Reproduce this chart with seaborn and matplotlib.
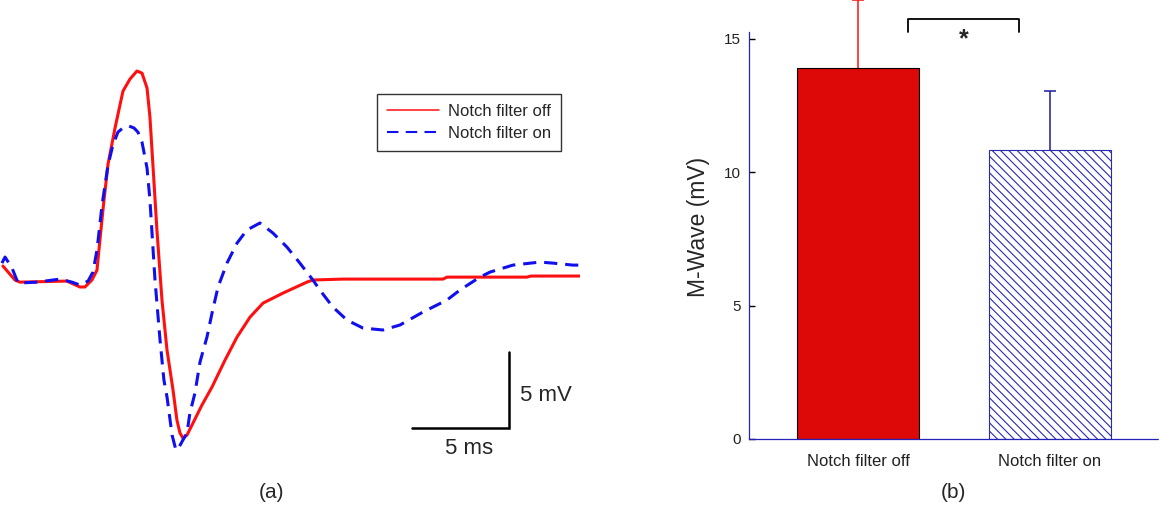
import numpy as np
import pandas as pd
import matplotlib
matplotlib.use("Agg")
import matplotlib.pyplot as plt
from matplotlib.lines import Line2D
import seaborn as sns

# ---- data ----
# panel (a): M-wave traces, time in ms, amplitude in mV
t_off = [0.15, 0.77, 1.03, 3.45, 4.12, 4.38, 4.74, 5.00, 5.10, 5.36, 5.57, 5.93,
         6.34, 6.70, 7.06, 7.32, 7.58, 7.73, 7.89, 8.09, 8.35, 8.61, 8.92, 9.12,
         9.28, 9.43, 9.64, 9.95, 10.41, 10.93, 11.60, 12.22, 12.89, 13.56, 14.59,
         15.82, 16.13, 17.68, 22.84, 23.04, 27.16, 27.37, 29.90]
v_off = [0.99, 0.07, -0.07, 0.0, -0.39, -0.39, 0.07, 0.72, 2.04, 5.33, 7.70, 10.07,
         12.50, 13.29, 13.82, 13.68, 12.70, 10.79, 7.50, 3.36, -1.25, -4.54, -7.17, -9.14,
         -10.0, -10.33, -10.13, -9.34, -8.16, -6.97, -5.20, -3.68, -2.37, -1.45, -0.79,
         -0.07, 0.07, 0.13, 0.13, 0.26, 0.26, 0.33, 0.33]

t_on = [0.10, 0.26, 0.62, 0.93, 1.91, 3.09, 3.71, 4.12, 4.54, 4.79, 5.00, 5.26,
        5.57, 5.82, 6.08, 6.39, 6.65, 6.91, 7.11, 7.32, 7.47, 7.58, 7.73, 7.99,
        8.25, 8.45, 8.61, 8.87, 9.07, 9.23, 9.43, 9.64, 9.79, 10.05, 10.31, 10.67,
        10.93, 11.24, 11.70, 12.22, 12.73, 13.40, 14.07, 14.79, 15.46, 16.13, 16.49,
        17.16, 17.89, 18.71, 19.74, 20.62, 21.80, 23.04, 23.71, 24.74, 25.26, 26.44,
        27.84, 28.51, 29.54, 29.90]
v_on = [1.18, 1.58, 0.86, -0.13, -0.07, 0.13, -0.07, -0.26, 0.0, 0.59, 2.04, 5.00,
        7.63, 8.95, 9.80, 10.13, 10.20, 10.07, 9.80, 9.14, 8.16, 7.43, 5.33, 0.07,
        -3.88, -6.51, -7.63, -10.13, -11.12, -10.92, -10.46, -10.0, -8.68, -7.37, -5.33, -3.68,
        -2.11, -0.39, 1.18, 2.50, 3.36, 3.82, 3.16, 2.24, 1.18, 0.07, -0.59,
        -1.71, -2.57, -3.09, -3.22, -2.89, -2.04, -1.25, -0.59, 0.26, 0.59, 1.05,
        1.25, 1.18, 1.05, 1.05]

# panel (b): mean M-wave and upper error
conditions = ["Notch filter off", "Notch filter on"]
mwave_mean = [13.91, 10.84]
mwave_err = [2.54, 2.21]

red = "#ff1010"
blue = "#1010ee"
bar_red = "#dd0808"
hatch_blue = "#2a2ab0"
axis_blue = "#2323b8"

sns.set_style("white")
plt.rcParams["font.family"] = ["Liberation Sans", "DejaVu Sans"]
plt.rcParams["hatch.linewidth"] = 0.8

fig = plt.figure(figsize=(11.6, 5.13), dpi=100)

# ---------------- panel (a) ----------------
axa = fig.add_axes([0.0, 43 / 513, 0.5, 430 / 513])
sns.lineplot(x=t_off, y=v_off, ax=axa, color=red, lw=2.2, estimator=None, sort=False)
sns.lineplot(x=t_on, y=v_on, ax=axa, color=blue, lw=2.2, estimator=None, sort=False,
             linestyle=(0, (4.3, 2.6)))
axa.set_xlim(0, 29.9)
axa.set_ylim(-12.43, 15.86)
axa.axis("off")

# scale bars
axa.plot([21.24, 26.24, 26.24], [-9.67, -9.67, -4.67], color="black", lw=1.8,
         solid_joinstyle="miter")
axa.text(26.8, -7.5, "5 mV", fontsize=16, ha="left", va="center")
axa.text(24.2, -11.0, "5 ms", fontsize=16, ha="center", va="center")

handles = [Line2D([], [], color=red, lw=1.1),
           Line2D([], [], color=blue, lw=1.5, linestyle=(0, (5.5, 3.5)))]
leg = axa.legend(handles, ["Notch filter off", "Notch filter on"],
                 loc="upper left", bbox_to_anchor=(377 / 1160, 1 - 94 / 513),
                 bbox_transform=fig.transFigure, borderaxespad=0, fontsize=12,
                 frameon=True, fancybox=False, edgecolor="black",
                 handlelength=3.1, handletextpad=0.55, borderpad=0.6,
                 labelspacing=0.4)
leg.get_frame().set_linewidth(1.0)

# ---------------- panel (b) ----------------
axb = fig.add_axes([749 / 1160, 74 / 513, 409 / 1160, 439 / 513])
df = pd.DataFrame({"cond": conditions, "mwave": mwave_mean})
sns.barplot(data=df, x="cond", y="mwave", hue="cond", palette=[bar_red, "white"],
            legend=False, width=0.635, errorbar=None, saturation=1, ax=axb)

bars = axb.patches
bars[0].set_edgecolor("black")
bars[0].set_linewidth(0.8)
bars[1].set_edgecolor(hatch_blue)
bars[1].set_hatch("\\\\\\\\")
bars[1].set_linewidth(0.8)

err_colors = [red, "#1a1aa0"]
for i in range(len(conditions)):
    eb = axb.errorbar(i, mwave_mean[i], yerr=[[0], [mwave_err[i]]], fmt="none",
                      ecolor=err_colors[i], elinewidth=1.1, capsize=4, capthick=1.1,
                      clip_on=False, zorder=1)
    # only the upper cap is drawn in the original
    caps = eb[1]
    low = min(caps, key=lambda c: c.get_ydata()[0])
    low.set_visible(False)

axb.set_xlim(-0.568, 1.5625)
axb.set_ylim(0, 16.46)
sns.despine(ax=axb)
for side in ["left", "bottom"]:
    axb.spines[side].set_color(axis_blue)
    axb.spines[side].set_linewidth(0.9)
axb.spines["left"].set_bounds(0, 15.26)
axb.spines["bottom"].set_linestyle((0, (3, 1)))

axb.set_yticks([0, 5, 10, 15])
axb.tick_params(axis="y", direction="in", length=4, width=1, color="black",
                labelsize=11, labelcolor="#222222", pad=6, left=True)
axb.tick_params(axis="x", length=0, labelsize=12, labelcolor="#222222", pad=11)
axb.set_xlabel("")
axb.set_ylabel("M-Wave (mV)", fontsize=16.5)
axb.yaxis.set_label_coords(-0.095, 0.483)

# significance bracket
axb.plot([0.26, 0.26, 0.839, 0.839], [15.26, 15.75, 15.75, 15.26], color="black",
         lw=1.3, clip_on=False)
axb.text(0.55, 15.0, "*", fontsize=18, fontweight="bold", ha="center", va="center")

fig.text(272 / 1160, 1 - 493 / 513, "(a)", fontsize=15, ha="center", va="center")
fig.text(953 / 1160, 1 - 493 / 513, "(b)", fontsize=15, ha="center", va="center")

fig.savefig("out.png", dpi=100)
